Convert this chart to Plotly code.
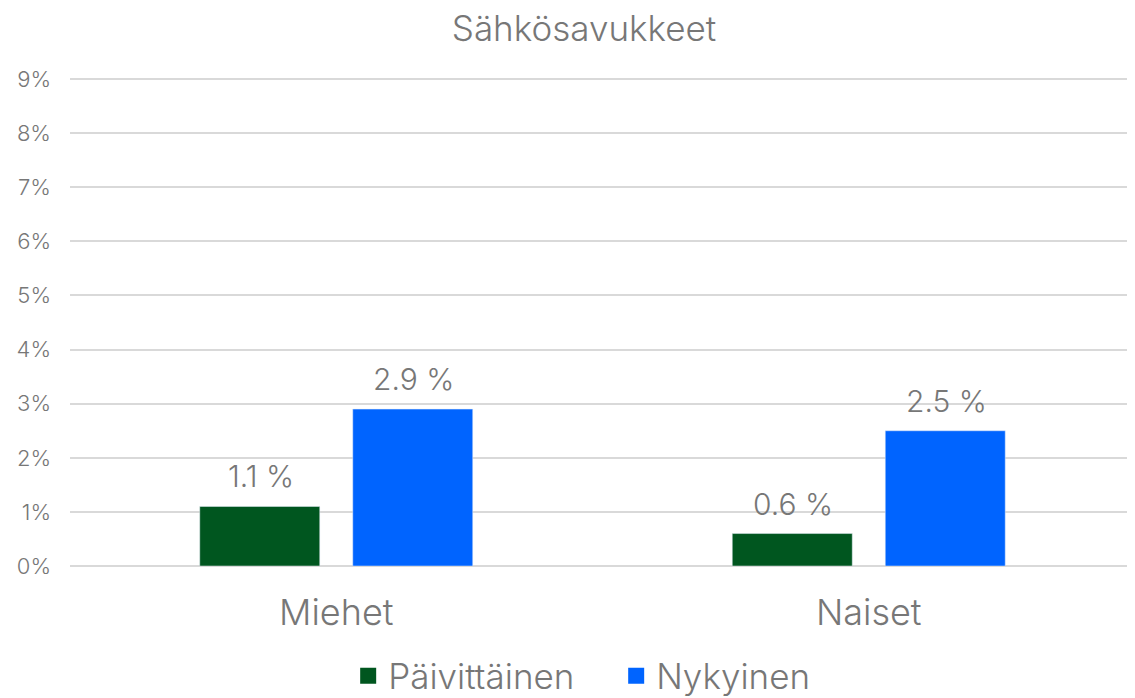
import plotly.graph_objects as go

categories = ["Miehet", "Naiset"]
series_names = ["Päivittäinen", "Nykyinen"]
paivittainen = [1.1, 0.6]
nykyinen = [2.9, 2.5]
tick_vals = [0, 1, 2, 3, 4, 5, 6, 7, 8, 9]
tick_text = [f"{v}%" for v in tick_vals]
colors = ["#00561f", "#0064ff"]

FONT = "Inter"
GRAY = "#777777"

W, H = 1127, 690
ML, MR, MT, MB = 62, 0, 70, 132
BARGAP, GROUPGAP = 0.4254, 0.2157

fig = go.Figure()
series = [paivittainen, nykyinen]
cat_w = (W - ML - MR) / len(categories)
slot = cat_w * (1 - BARGAP) / len(series)
for i, (name, vals, col) in enumerate(zip(series_names, series, colors)):
    fig.add_trace(go.Bar(
        x=categories, y=vals, name=name, marker_color=col, showlegend=False,
    ))
    # legend proxy with a larger square swatch
    fig.add_trace(go.Scatter(
        x=[None], y=[None], mode="markers", name=name,
        marker=dict(symbol="square", size=20, color=col),
    ))
    off = (i - (len(series) - 1) / 2) * slot
    for c, v in zip(categories, vals):
        fig.add_annotation(
            x=c, y=v, xref="x", yref="y", text=f"{v:.1f} %", showarrow=False,
            yanchor="bottom", xanchor="center", xshift=off + 1, yshift=10,
            font=dict(family=FONT, size=30, color=GRAY, weight=300),
        )

fig.update_layout(
    width=W, height=H,
    margin=dict(l=ML, r=MR, t=MT, b=MB, autoexpand=False),
    paper_bgcolor="white", plot_bgcolor="white",
    barmode="group", bargap=BARGAP, bargroupgap=GROUPGAP,
    title=dict(text="Sähkösavukkeet", x=576 / W, xanchor="center", y=1 - 8 / H, yanchor="top",
               font=dict(family=FONT, size=35, color=GRAY, weight=300)),
    font=dict(family=FONT, color=GRAY, weight=300),
    legend=dict(orientation="h", x=0.2612, xanchor="left",
                yref="container", y=1 - 668 / H, yanchor="middle",
                font=dict(family=FONT, size=35, color=GRAY, weight=300),
                itemwidth=30, traceorder="normal", itemsizing="trace",
                entrywidth=223, entrywidthmode="pixels"),
    showlegend=True,
)
fig.update_yaxes(range=[0, 9.02], tickvals=tick_vals, ticktext=tick_text,
                 showgrid=True, gridcolor="#d9d9d9", gridwidth=2,
                 zeroline=True, zerolinecolor="#d9d9d9", zerolinewidth=2,
                 tickfont=dict(family=FONT, size=22, color=GRAY, weight=300),
                 ticks="", showline=False, ticklabelstandoff=18)
fig.update_xaxes(tickfont=dict(family=FONT, size=36, color=GRAY, weight=300),
                 showline=False, ticks="", ticklabelstandoff=22, showgrid=False)

fig.write_html("out.html")
